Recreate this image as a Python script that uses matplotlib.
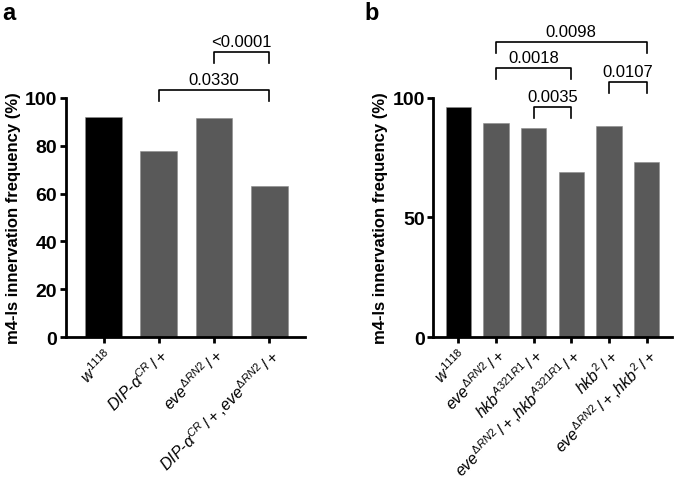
import matplotlib
matplotlib.use("Agg")
import matplotlib.pyplot as plt

plt.rcParams['font.family'] = ['Liberation Sans', 'DejaVu Sans']
plt.rcParams['mathtext.fontset'] = 'custom'
plt.rcParams['mathtext.rm'] = 'Liberation Sans'
plt.rcParams['mathtext.it'] = 'Liberation Sans:italic'
plt.rcParams['mathtext.bf'] = 'Liberation Sans:bold'

# panel a
labels_a = [r'$\mathit{w^{1118}}$',
            r'$\mathit{DIP\text{-}α^{CR}\,/+}$',
            r'$\mathit{eve^{ΔRN2}\,/+}$',
            r'$\mathit{DIP\text{-}α^{CR}\,/+{,}eve^{ΔRN2}\,/+}$']
values_a = [92.2, 77.8, 91.8, 63.3]
# (i, j, bar height, text)
brackets_a = [(1, 3, 103.5, '0.0330'), (2, 3, 119.1, '<0.0001')]

# panel b
labels_b = [r'$\mathit{w^{1118}}$',
            r'$\mathit{eve^{ΔRN2}\,/+}$',
            r'$\mathit{hkb^{A321R1}\,/+}$',
            r'$\mathit{eve^{ΔRN2}\,/+{,}hkb^{A321R1}\,/+}$',
            r'$\mathit{hkb^{2}\,/+}$',
            r'$\mathit{eve^{ΔRN2}\,/+{,}hkb^{2}\,/+}$']
values_b = [96.1, 89.5, 87.4, 69.0, 88.3, 73.1]
brackets_b = [(1, 5, 123.6, '0.0098'), (1, 3, 112.4, '0.0018'),
              (4, 5, 106.8, '0.0107'), (2, 3, 96.4, '0.0035')]

fig = plt.figure(figsize=(6.75, 4.85), dpi=100)
ax_a = fig.add_axes([0.0973, 0.303, 0.3545, 0.493])
ax_b = fig.add_axes([0.642, 0.303, 0.354, 0.493])


def draw(ax, labels, values, brackets, yticks, xlim):
    n = len(values)
    colors = ['black'] + ['#595959'] * (n - 1)
    ax.bar(range(n), values, width=0.67, color=colors,
           edgecolor='#8c8c8c', linewidth=0.4)
    ax.set_xlim(*xlim)
    ax.set_ylim(0, 100)
    ax.set_yticks(yticks)
    ax.set_xticks(range(n))
    ax.set_xticklabels(labels, rotation=45, ha='right', rotation_mode='anchor',
                       fontsize=11.5)
    for lab in ax.get_yticklabels():
        lab.set_fontweight('bold')
        lab.set_fontsize(14)
    ax.spines['top'].set_visible(False)
    ax.spines['right'].set_visible(False)
    ax.spines['left'].set_linewidth(2)
    ax.spines['bottom'].set_linewidth(2)
    ax.tick_params(width=2, length=4, pad=2)
    ax.set_ylabel('m4-ls innervation frequency (%)', fontweight='bold',
                  fontsize=12, labelpad=3)
    for i, j, h, txt in brackets:
        ax.plot([i, i, j, j], [h - 4.6, h, h, h - 4.6], color='black',
                lw=1.2, clip_on=False)
        ax.text((i + j) / 2, h + 1.2, txt, ha='center', va='bottom',
                fontsize=12)


draw(ax_a, labels_a, values_a, brackets_a, [0, 20, 40, 60, 80, 100], (-0.69, 3.65))
draw(ax_b, labels_b, values_b, brackets_b, [0, 50, 100], (-0.66, 5.68))

fig.text(0.003, 0.995, 'a', fontsize=17, fontweight='bold', va='top')
fig.text(0.54, 0.995, 'b', fontsize=17, fontweight='bold', va='top')

fig.savefig('out.png', dpi=100)
